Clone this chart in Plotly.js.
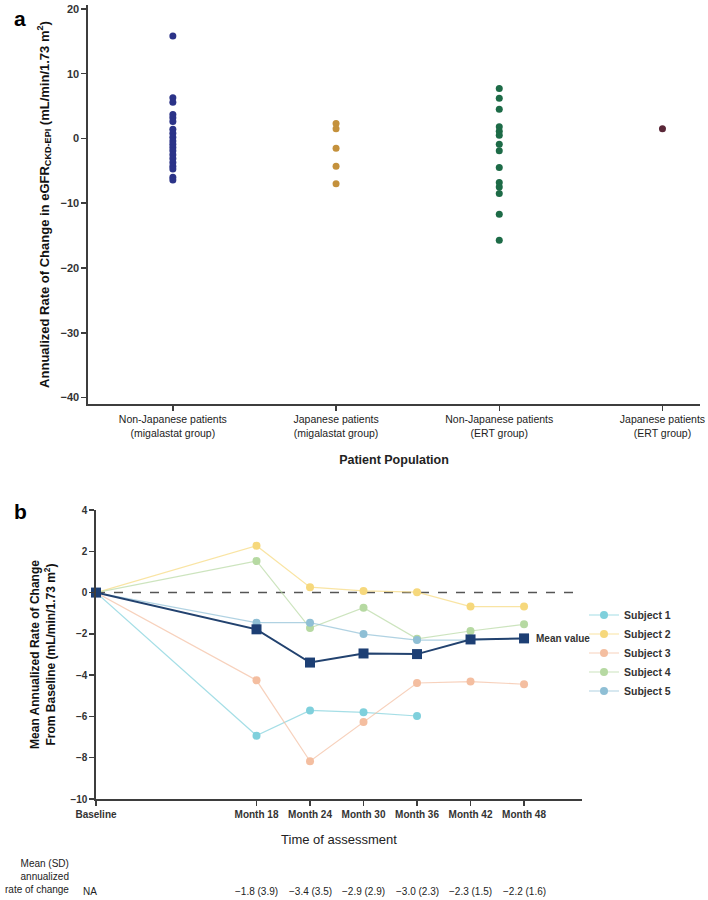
<!DOCTYPE html>
<html><head><meta charset="utf-8">
<script src="https://cdn.plot.ly/plotly-3.0.1.min.js"></script>
<style>html,body{margin:0;padding:0;background:#fff}#chart{width:708px;height:900px}</style>
</head><body><div id="chart"></div>
<script>
// ---- Panel a data ----
const groups = ["Non-Japanese patients<br>(migalastat group)", "Japanese patients<br>(migalastat group)", "Non-Japanese patients<br>(ERT group)", "Japanese patients<br>(ERT group)"];
const nonJapMigalastat = [15.8, 6.3, 5.6, 3.7, 3.2, 2.6, 1.4, 0.8, 0.2, -0.4, -0.9, -1.4, -1.9, -2.5, -3.1, -3.7, -4.3, -4.7, -6.0, -6.4];
const japMigalastat = [2.3, 1.5, -1.5, -4.3, -7.0];
const nonJapERT = [7.7, 6.2, 4.5, 1.8, 1.1, 0.5, -0.9, -1.9, -4.5, -6.8, -7.5, -8.5, -11.7, -15.7];
const japERT = [1.5];
const groupColors = ["#2b3388", "#c4913c", "#1d6b47", "#5a2738"];
const yTicksA = [20, 10, 0, -10, -20, -30, -40];

// ---- Panel b data ----
const months = [0, 18, 24, 30, 36, 42, 48];
const monthLabels = ["Baseline", "Month 18", "Month 24", "Month 30", "Month 36", "Month 42", "Month 48"];
const subjectNames = ["Subject 1", "Subject 2", "Subject 3", "Subject 4", "Subject 5"];
const subject1 = [0, -6.93, -5.71, -5.80, -5.98, null, null];
const subject2 = [0, 2.27, 0.26, 0.08, 0.02, -0.68, -0.68];
const subject3 = [0, -4.25, -8.17, -6.27, -4.38, -4.31, -4.44];
const subject4 = [0, 1.53, -1.72, -0.73, -2.24, -1.86, -1.54];
const subject5 = [0, -1.46, -1.46, -2.01, -2.30, -2.30, -2.20];
const meanValue = [0, -1.78, -3.39, -2.95, -2.98, -2.27, -2.22];
const meanSD = ["NA", "\u22121.8 (3.9)", "\u22123.4 (3.5)", "\u22122.9 (2.9)", "\u22123.0 (2.3)", "\u22122.3 (1.5)", "\u22122.2 (1.6)"];
const subjectColors = ["#7fd0dc", "#f6d87c", "#f4bea0", "#b6d9a2", "#8fbfd5"];
const subjectLineColors = ["rgba(127,208,220,0.7)", "rgba(246,216,124,0.7)", "rgba(244,190,160,0.7)", "rgba(182,217,162,0.7)", "rgba(143,191,213,0.7)"];
const yTicksB = [4, 2, 0, -2, -4, -6, -8, -10];

const W = 708, H = 900;
const px = v => v / W;
const py = v => 1 - v / H;
const FONT = "Liberation Sans, Arial, sans-serif";

const traces = [];
const groupData = [nonJapMigalastat, japMigalastat, nonJapERT, japERT];
groupData.forEach((vals, i) => {
  traces.push({
    type: "scatter", mode: "markers", xaxis: "x", yaxis: "y",
    x: vals.map(() => groups[i]), y: vals,
    marker: {color: groupColors[i], size: 7},
    showlegend: false, cliponaxis: false, hoverinfo: "y"
  });
});
const subjects = [subject1, subject2, subject3, subject4, subject5];
subjects.forEach((vals, i) => {
  traces.push({
    type: "scatter", mode: "lines+markers", xaxis: "x2", yaxis: "y2",
    x: months, y: vals, name: subjectNames[i],
    line: {color: subjectLineColors[i], width: 1.2},
    marker: {color: subjectColors[i], size: 8},
    cliponaxis: false, connectgaps: false
  });
});
traces.push({
  type: "scatter", mode: "lines+markers", xaxis: "x2", yaxis: "y2",
  x: months, y: meanValue, name: "Mean value",
  line: {color: "#22426f", width: 2},
  marker: {color: "#1d3f74", size: 10, symbol: "square"},
  showlegend: false, cliponaxis: false
});

const axisCommon = {
  showgrid: false, zeroline: false, showline: true, linecolor: "#3d3d3d", linewidth: 1.6,
  ticks: "outside", ticklen: 5, tickwidth: 1.5, tickcolor: "#3d3d3d"
};

const annotations = [
  {xref: "paper", yref: "paper", x: px(12), y: py(18), xanchor: "left", yanchor: "middle", text: "<b>a</b>", showarrow: false, font: {family: FONT, size: 21, color: "#000"}},
  {xref: "paper", yref: "paper", x: px(12), y: py(511), xanchor: "left", yanchor: "middle", text: "<b>b</b>", showarrow: false, font: {family: FONT, size: 21, color: "#000"}},
  {xref: "x2", yref: "y2", x: months[months.length - 1], y: meanValue[meanValue.length - 1], xanchor: "left", yanchor: "middle", xshift: 10, text: "<b>Mean value</b>", showarrow: false, font: {family: FONT, size: 10, color: "#333"}},
  {xref: "paper", yref: "paper", x: px(71), y: py(897), xanchor: "right", yanchor: "bottom", align: "right", text: "Mean (SD)<br>annualized<br>rate of change", showarrow: false, font: {family: FONT, size: 10, color: "#222"}}
];
meanSD.forEach((t, i) => {
  annotations.push({xref: "x2", yref: "paper", x: months[i], y: py(891), xanchor: "center", yanchor: "middle",
    xshift: i === 0 ? -6 : 0, text: t, showarrow: false, font: {family: FONT, size: 10, color: "#222"}});
});

const layout = {
  width: W, height: H,
  margin: {l: 0, r: 0, t: 0, b: 0},
  paper_bgcolor: "#fff", plot_bgcolor: "rgba(0,0,0,0)",
  font: {family: FONT, color: "#333"},
  xaxis: Object.assign({}, axisCommon, {
    domain: [px(88), px(700)], anchor: "y",
    type: "category", categoryorder: "array", categoryarray: groups,
    range: [-0.52, 3.23],
    tickfont: {family: FONT, size: 10.5, color: "#222"},
    title: {text: "<b>Patient Population</b>", font: {family: FONT, size: 12.5, color: "#222"}, standoff: 17}
  }),
  yaxis: Object.assign({}, axisCommon, {
    domain: [py(404), py(5)], anchor: "x",
    range: [-41, 20.6], tickvals: yTicksA,
    tickfont: {family: FONT, size: 11, color: "#333", weight: "bold"},
    title: {text: "<b>Annualized Rate of Change in eGFR<sub>CKD-EPI</sub> (mL/min/1.73 m<sup>2</sup>)</b>", font: {family: FONT, size: 13, color: "#111"}, standoff: 8}
  }),
  xaxis2: Object.assign({}, axisCommon, {
    domain: [px(96), px(582)], anchor: "y2",
    range: [0, 54.5], tickvals: months, ticktext: monthLabels,
    tickfont: {family: FONT, size: 10, color: "#333", weight: "bold"},
    title: {text: "Time of assessment", font: {family: FONT, size: 13, color: "#222"}, standoff: 16}
  }),
  yaxis2: Object.assign({}, axisCommon, {
    domain: [py(799), py(510)], anchor: "x2",
    range: [-10, 4], tickvals: yTicksB,
    tickfont: {family: FONT, size: 10, color: "#333", weight: "bold"},
    title: {text: "<b>Mean Annualized Rate of Change<br>From Baseline (mL/min/1.73 m<sup>2</sup>)</b>", font: {family: FONT, size: 12, color: "#111"}, standoff: 12}
  }),
  shapes: [
    {type: "line", xref: "x2", yref: "y2", x0: 0, x1: 53.8, y0: 0, y1: 0, layer: "below", line: {color: "#555", width: 1.5, dash: "dash"}}
  ],
  legend: {
    x: px(584), y: py(653), xanchor: "left", yanchor: "middle",
    font: {family: FONT, size: 10.5, color: "#333", weight: "bold"},
    bgcolor: "rgba(0,0,0,0)", itemwidth: 30
  },
  annotations: annotations
};

Plotly.newPlot("chart", traces, layout, {displayModeBar: false, staticPlot: true});
</script>
</body></html>
